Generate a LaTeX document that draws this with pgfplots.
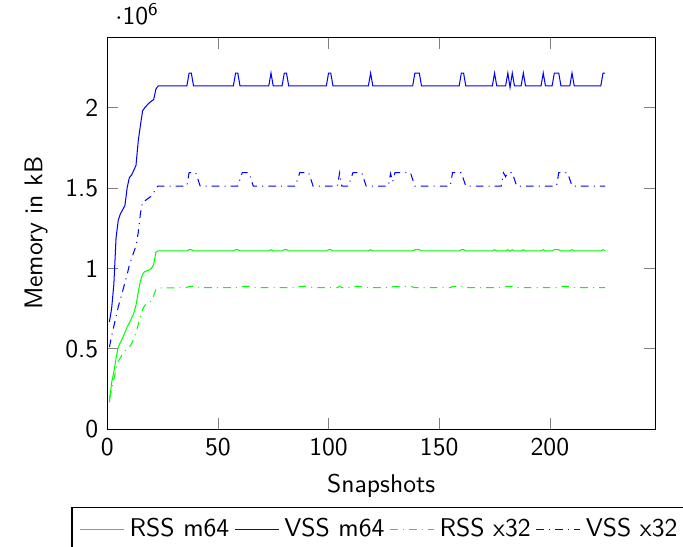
\documentclass[border=0pt]{standalone}
\usepackage{pgfplots}
\pgfplotsset{compat=1.18}
\renewcommand{\familydefault}{\sfdefault}
\definecolor{lgreen}{RGB}{0,255,0}
\definecolor{lblue}{RGB}{0,0,255}
\makeatletter
\newcommand\legline[4]{%
  \pgfsetlinewidth{0.4pt}#4%
  \pgfsys@color@rgb@stroke{#1}{#2}{#3}%
  \pgfpathmoveto{\pgfpointorigin}\pgfpathlineto{\pgfpoint{0.6cm}{0cm}}\pgfusepath{stroke}}
\makeatother
\newcommand\dd{\pgfsetdash{{3pt}{2pt}{0.4pt}{2pt}}{0pt}}
\begin{document}
\begin{tikzpicture}
\begin{axis}[
  name=ax,
  scale only axis,
  width=213.6pt, height=152.6pt,
  xmin=0, xmax=247.5, ymin=0, ymax=2435000,
  /pgf/number format/assume math mode=true,
  xlabel={Snapshots}, ylabel={Memory in kB},
  xtick={0,50,100,150,200},
  ytick={0,500000,1000000,1500000,2000000},
  scaled y ticks=base 10:-6,
  ytick scale label code/.code={$\cdot$10$^{\mathsf{#1}}$},
  legend columns=4,
  legend style={at={(0.5,-0.2)}, anchor=north},
  legend cell align=left,
]
\addplot[lgreen, no marks, legend image code/.code={\legline{0}{1}{0}{}}] coordinates {
(1,166000)(2,290000)(3,355000)(4,440000)(5,510000)(6,540000)(7,570000)(8,600000)
(9,635000)(10,660000)(11,690000)(12,720000)(13,770000)(14,850000)(15,920000)
(16,965000)(17,980000)(18,985000)(19,990000)(20,1000000)(21,1025000)(22,1100000)(23,1108000)
(36,1108000)(37,1116000)(38,1116000)(39,1108000)
(57,1108000)(58,1116000)(59,1116000)(60,1108000)
(73,1108000)(74,1116000)(75,1108000)
(79,1108000)(80,1116000)(81,1116000)(82,1108000)
(99,1108000)(100,1116000)(101,1116000)(102,1108000)
(118,1108000)(119,1116000)(120,1108000)
(138,1108000)(139,1116000)(141,1116000)(142,1108000)
(159,1108000)(160,1116000)(161,1116000)(162,1108000)
(174,1108000)(175,1116000)(176,1108000)
(180,1108000)(181,1116000)(182,1106000)(183,1116000)(184,1108000)
(187,1108000)(188,1116000)(189,1108000)
(196,1108000)(197,1116000)(198,1108000)
(201,1108000)(202,1116000)(204,1116000)(205,1108000)
(209,1108000)(210,1116000)(211,1108000)
(223,1108000)(224,1116000)(225,1110000)
};
\addlegendentry{RSS m64}
\addplot[lblue, no marks, legend image code/.code={\legline{0}{0}{1}{}}] coordinates {
(1,667000)(2,750000)(3,900000)(4,1190000)(5,1300000)(6,1340000)(7,1365000)(8,1390000)
(9,1500000)(10,1565000)(11,1580000)(12,1610000)(13,1640000)(14,1790000)(15,1890000)
(16,1980000)(17,2000000)(18,2015000)(19,2030000)(20,2040000)(21,2050000)(22,2115000)(23,2135000)
(36,2135000)(37,2215000)(38,2215000)(39,2135000)
(57,2135000)(58,2215000)(59,2215000)(60,2135000)
(73,2135000)(74,2215000)(75,2135000)
(79,2135000)(80,2215000)(81,2215000)(82,2135000)
(99,2135000)(100,2215000)(101,2215000)(102,2135000)
(118,2135000)(119,2215000)(120,2135000)
(138,2135000)(139,2215000)(141,2215000)(142,2135000)
(159,2135000)(160,2215000)(161,2215000)(162,2135000)
(174,2135000)(175,2215000)(176,2135000)
(180,2135000)(181,2215000)(182,2125000)(183,2215000)(184,2135000)
(187,2135000)(188,2215000)(189,2135000)
(196,2135000)(197,2215000)(198,2135000)
(201,2135000)(202,2215000)(204,2215000)(205,2135000)
(209,2135000)(210,2215000)(211,2135000)
(223,2135000)(224,2215000)(225,2215000)
};
\addlegendentry{VSS m64}
\addplot[lgreen, dashdotted, no marks, legend image code/.code={\legline{0}{1}{0}{\dd}}] coordinates {
(1,190000)(2,250000)(3,310000)(4,370000)(5,420000)(6,445000)(7,470000)(8,485000)
(9,500000)(10,510000)(11,530000)(12,565000)(13,595000)(14,650000)(15,700000)
(16,745000)(17,770000)(18,778000)(19,785000)(20,800000)(21,830000)(22,869000)(23,878000)
(36,880000)(37,888000)(40,888000)(42,880000)
(59,880000)(61,888000)(64,888000)(66,880000)
(85,880000)(87,888000)(91,888000)(93,880000)
(104,880000)(105,888000)(106,880000)
(109,880000)(111,888000)(115,888000)(117,880000)
(127,880000)(130,888000)(137,888000)(139,880000)
(155,880000)(156,888000)(160,888000)(162,880000)
(178,880000)(180,888000)(184,888000)(186,880000)
(203,880000)(204,888000)(208,888000)(210,880000)
(225,880000)
};
\addlegendentry{RSS x32}
\addplot[lblue, dashdotted, no marks, legend image code/.code={\legline{0}{0}{1}{\dd}}] coordinates {
(1,510000)(2,580000)(3,640000)(4,700000)(5,760000)(6,810000)(7,860000)(8,910000)
(9,960000)(10,1020000)(11,1060000)(12,1100000)(13,1140000)(14,1220000)(15,1340000)
(16,1415000)(17,1420000)(18,1430000)(19,1440000)(20,1450000)(21,1470000)(22,1500000)(23,1512000)
(36,1512000)(37,1595000)(40,1595000)(42,1512000)
(59,1512000)(61,1595000)(64,1595000)(66,1512000)
(85,1512000)(87,1595000)(91,1595000)(93,1512000)
(104,1512000)(105,1595000)(106,1512000)
(109,1512000)(111,1595000)(115,1595000)(117,1512000)
(127,1512000)(128,1590000)(129,1540000)(130,1595000)(137,1595000)(139,1512000)
(155,1512000)(156,1595000)(160,1595000)(162,1512000)
(178,1512000)(179,1595000)(180,1570000)(181,1595000)(183,1595000)(185,1512000)
(203,1512000)(204,1595000)(208,1595000)(210,1512000)
(225,1512000)
};
\addlegendentry{VSS x32}
\end{axis}
\pgfresetboundingbox
\path[use as bounding box] ([shift={(-41.8pt,-45.7pt)}]ax.south west) rectangle ([shift={(224.5pt,167.3pt)}]ax.south west);
\end{tikzpicture}
\end{document}
